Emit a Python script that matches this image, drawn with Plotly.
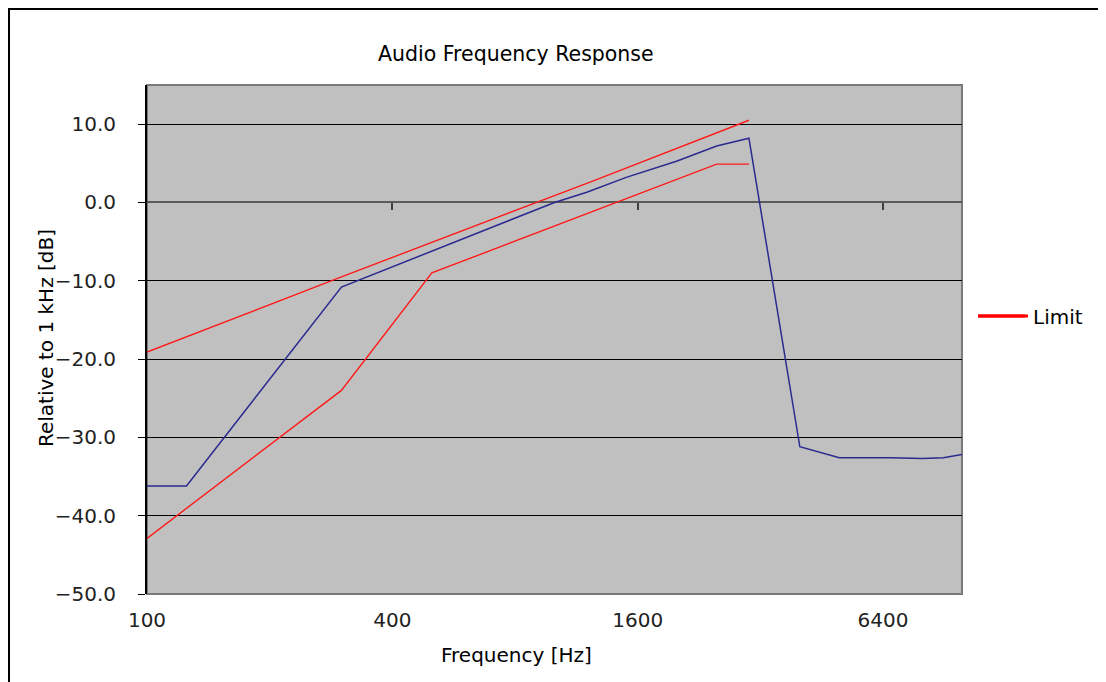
import plotly.graph_objects as go

# ---- data ----
meas_freq = [100, 125, 300, 1000, 1200, 1500, 2000, 2500, 3000, 4000, 5000, 6700, 8000, 9000, 10000]
meas_db = [-36.2, -36.2, -10.8, 0.0, 1.3, 3.2, 5.3, 7.2, 8.2, -31.2, -32.6, -32.6, -32.7, -32.6, -32.2]

upper_freq = [100, 300, 1250, 3000]
upper_db = [-19.1, -9.5, 2.8, 10.5]

lower_freq = [100, 300, 500, 2500, 3000]
lower_db = [-42.9, -24.0, -9.0, 4.9, 4.9]

x_ticks = [100, 400, 1600, 6400]
x_ticklabels = ["100", "400", "1600", "6400"]
y_ticks = [-50, -40, -30, -20, -10, 0, 10]

FONT = "DejaVu Sans"
RED = "#FF1A1A"
BLUE = "#2A2A90"

# page offset (body margin) and geometry in page pixels
OFF = 8
PL, PR, PT, PB = 147, 962, 85, 594          # plot area edges on the page
W, H = 1106 - OFF, 684 - OFF
L, T = PL - OFF, PT - OFF
pw, ph = PR - PL, PB - PT
R, B = W - L - pw, H - T - ph


def px_x(p):
    return (p - PL) / pw


def px_y(p):
    return (PB - p) / ph


ymin, ymax = -50, 15

fig = go.Figure()
fig.add_trace(go.Scatter(x=meas_freq, y=meas_db, mode="lines", line=dict(color=BLUE, width=1.5),
                         showlegend=False, name="Measured"))
fig.add_trace(go.Scatter(x=upper_freq, y=upper_db, mode="lines", line=dict(color=RED, width=1.4),
                         name="Limit", legendgroup="limit", showlegend=False))
fig.add_trace(go.Scatter(x=lower_freq, y=lower_db, mode="lines", line=dict(color=RED, width=1.4),
                         name="Limit", legendgroup="limit", showlegend=False))
# legend entry for the limit lines
fig.add_trace(go.Scatter(x=[None], y=[None], mode="lines", line=dict(color="#FF0000", width=3),
                         name="Limit", legendgroup="limit", showlegend=True))
# helper trace for the tick marks on the zero line
fig.add_trace(go.Scatter(x=[x_ticks[0]], y=[None], xaxis="x2", mode="lines",
                         showlegend=False, hoverinfo="skip"))

fig.update_layout(
    width=W, height=H,
    margin=dict(l=L, r=R, t=T, b=B, pad=0),
    paper_bgcolor="white",
    plot_bgcolor="#C0C0C0",
    font=dict(family=FONT, size=20, color="black"),
    xaxis=dict(type="log", range=[2, 4], tickvals=x_ticks, ticktext=x_ticklabels,
               showgrid=False, zeroline=False, showline=False, ticks="",
               ticklabelstandoff=12, tickfont=dict(size=20, color="#222")),
    xaxis2=dict(type="log", matches="x", overlaying="x", anchor="free",
                position=(0 - ymin) / (ymax - ymin), side="bottom",
                tickvals=x_ticks[1:], ticks="outside", ticklen=7, tickwidth=2,
                tickcolor="#404040", showticklabels=False, showgrid=False,
                showline=False, zeroline=False),
    yaxis=dict(range=[ymin, ymax], tickvals=y_ticks, tickformat=".1f",
               showgrid=True, gridcolor="black", gridwidth=1,
               zeroline=True, zerolinecolor="#5A5A5A", zerolinewidth=2,
               showline=True, linecolor="black", linewidth=2,
               ticks="outside", ticklen=7, tickcolor="black", tickwidth=1,
               ticklabelstandoff=18, tickfont=dict(size=20, color="#222")),
    legend=dict(x=px_x(973), y=px_y(316), xanchor="left", yanchor="middle",
                itemwidth=50, bgcolor="rgba(0,0,0,0)", font=dict(size=20, family=FONT)),
    showlegend=True,
    shapes=[
        dict(type="rect", xref="paper", yref="paper", x0=0, x1=1, y0=0, y1=1,
             line=dict(color="#7A7A7A", width=2), layer="below"),
        dict(type="rect", xref="paper", yref="paper",
             x0=px_x(OFF + 1), x1=px_x(1104), y0=px_y(720), y1=px_y(OFF + 1),
             line=dict(color="black", width=2), fillcolor="rgba(0,0,0,0)"),
        dict(type="line", xref="paper", yref="paper",
             x0=px_x(978), x1=px_x(1025), y0=px_y(316), y1=px_y(316),
             line=dict(color="#FF0000", width=3)),
    ],
    annotations=[
        dict(text="Audio Frequency Response", xref="paper", yref="paper",
             x=px_x(516), y=px_y(54), xanchor="center", yanchor="middle",
             showarrow=False, font=dict(size=20.5, family=FONT)),
        dict(text="Frequency [Hz]", xref="paper", yref="paper",
             x=px_x(516), y=px_y(655), xanchor="center", yanchor="middle",
             showarrow=False, font=dict(size=20, family=FONT)),
        dict(text="Relative to 1 kHz [dB]", xref="paper", yref="paper",
             x=px_x(46), y=px_y(338), xanchor="center", yanchor="middle",
             textangle=-90, showarrow=False, font=dict(size=20, family=FONT)),
    ],
)

fig.write_html("out.html")
